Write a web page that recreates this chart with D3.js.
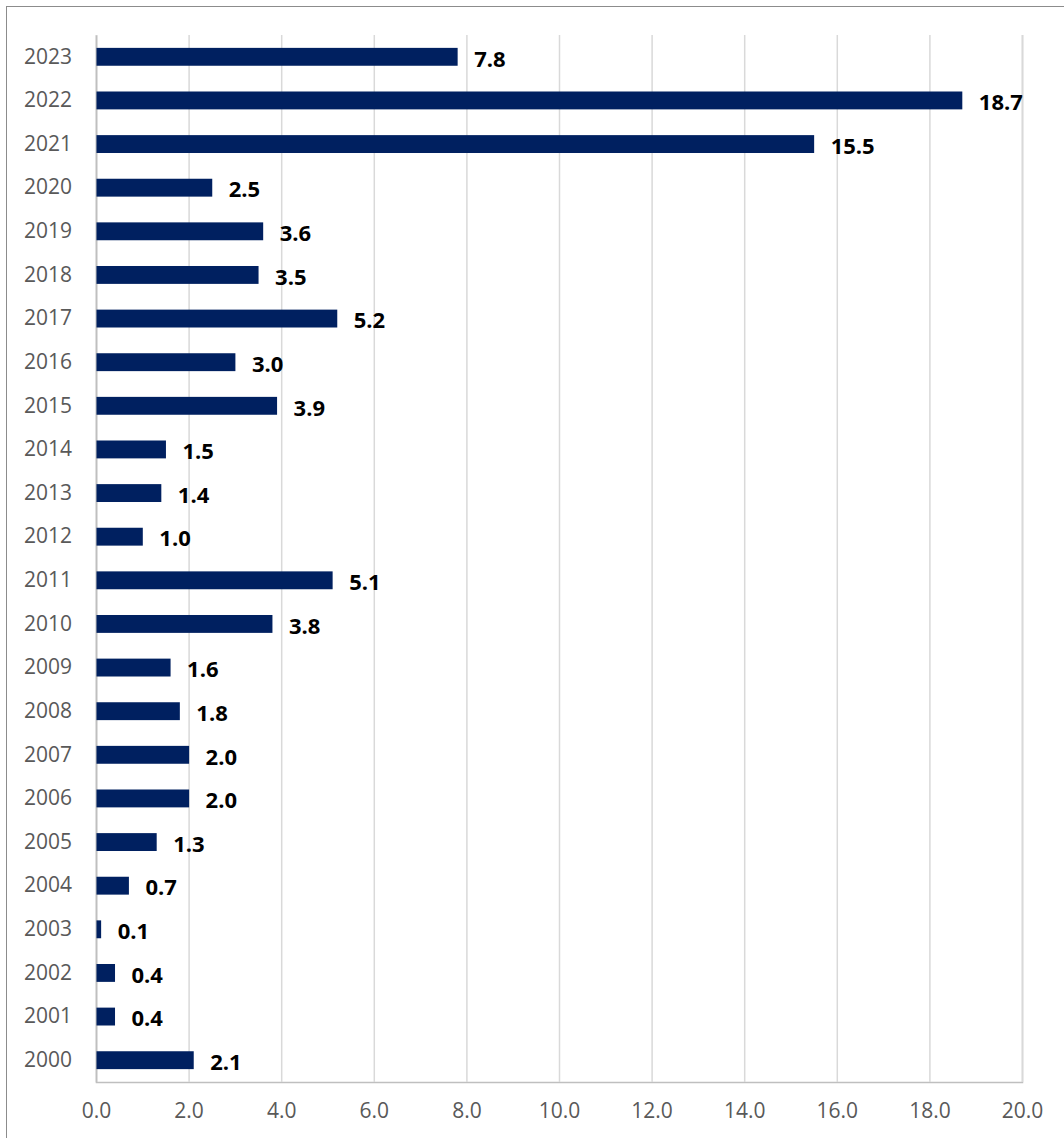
<!DOCTYPE html>
<html>
<head>
<meta charset="utf-8">
<script src="https://cdn.jsdelivr.net/npm/d3@7"></script>
<style>
  body { margin: 0; background: #fff; }
</style>
</head>
<body>
<div id="chart"></div>
<script>
const years = ['2023', '2022', '2021', '2020', '2019', '2018', '2017', '2016', '2015', '2014', '2013', '2012',
  '2011', '2010', '2009', '2008', '2007', '2006', '2005', '2004', '2003', '2002', '2001', '2000'];
const values = [7.8, 18.7, 15.5, 2.5, 3.6, 3.5, 5.2, 3.0, 3.9, 1.5, 1.4, 1.0,
  5.1, 3.8, 1.6, 1.8, 2.0, 2.0, 1.3, 0.7, 0.1, 0.4, 0.4, 2.1];
const xTicks = [0, 2, 4, 6, 8, 10, 12, 14, 16, 18, 20];

const W = 1064, H = 1138;
const margin = { top: 35, right: 42, bottom: 56, left: 96 };
const width = W - margin.left - margin.right;
const height = H - margin.top - margin.bottom;
const font = '"Open Sans", sans-serif';

const root = d3.select('#chart').append('svg').attr('width', W).attr('height', H);

// outer frame
root.append('rect').attr('x', 6.5).attr('y', 6.5).attr('width', W + 10).attr('height', H + 10)
  .attr('fill', 'none').attr('stroke', '#8c8c8c').attr('stroke-width', 1);

const svg = root.append('g').attr('transform', `translate(${margin.left},${margin.top})`);

const x = d3.scaleLinear().domain([0, 20]).range([0, width]);
const y = d3.scaleBand().domain(years).range([0, height]).paddingInner(0.59).paddingOuter(0.295);

// grid + x axis
svg.append('g').attr('transform', `translate(0,${height})`)
  .call(d3.axisBottom(x).tickValues(xTicks).tickSize(-height).tickPadding(21).tickFormat(d3.format('.1f')))
  .call(g => g.select('.domain').attr('stroke', '#bfbfbf').attr('stroke-width', 1.5))
  .call(g => g.selectAll('.tick line').attr('stroke', '#d9d9d9').attr('stroke-width', 1.5))
  .call(g => g.selectAll('.tick text').attr('fill', '#595959').attr('font-size', '21px').attr('font-family', font));

// y axis
svg.append('g')
  .call(d3.axisLeft(y).tickSize(0).tickPadding(24))
  .call(g => g.select('.domain').attr('stroke', '#bfbfbf').attr('stroke-width', 1.5))
  .call(g => g.selectAll('.tick text').attr('fill', '#595959').attr('font-size', '21px').attr('font-family', font));

const rows = years.map((yr, i) => ({ year: yr, value: values[i] }));

svg.selectAll('rect.bar').data(rows).join('rect')
  .attr('class', 'bar')
  .attr('x', 0.5).attr('y', d => y(d.year))
  .attr('width', d => x(d.value)).attr('height', y.bandwidth())
  .attr('fill', '#002060');

svg.selectAll('text.val').data(rows).join('text')
  .attr('class', 'val')
  .attr('x', d => x(d.value) + 17)
  .attr('y', d => y(d.year) + y.bandwidth() / 2 + 2)
  .attr('dy', '0.35em')
  .attr('fill', '#000').attr('font-size', '22px').attr('font-weight', '700').attr('font-family', font)
  .text(d => d.value.toFixed(1));
</script>
</body>
</html>
